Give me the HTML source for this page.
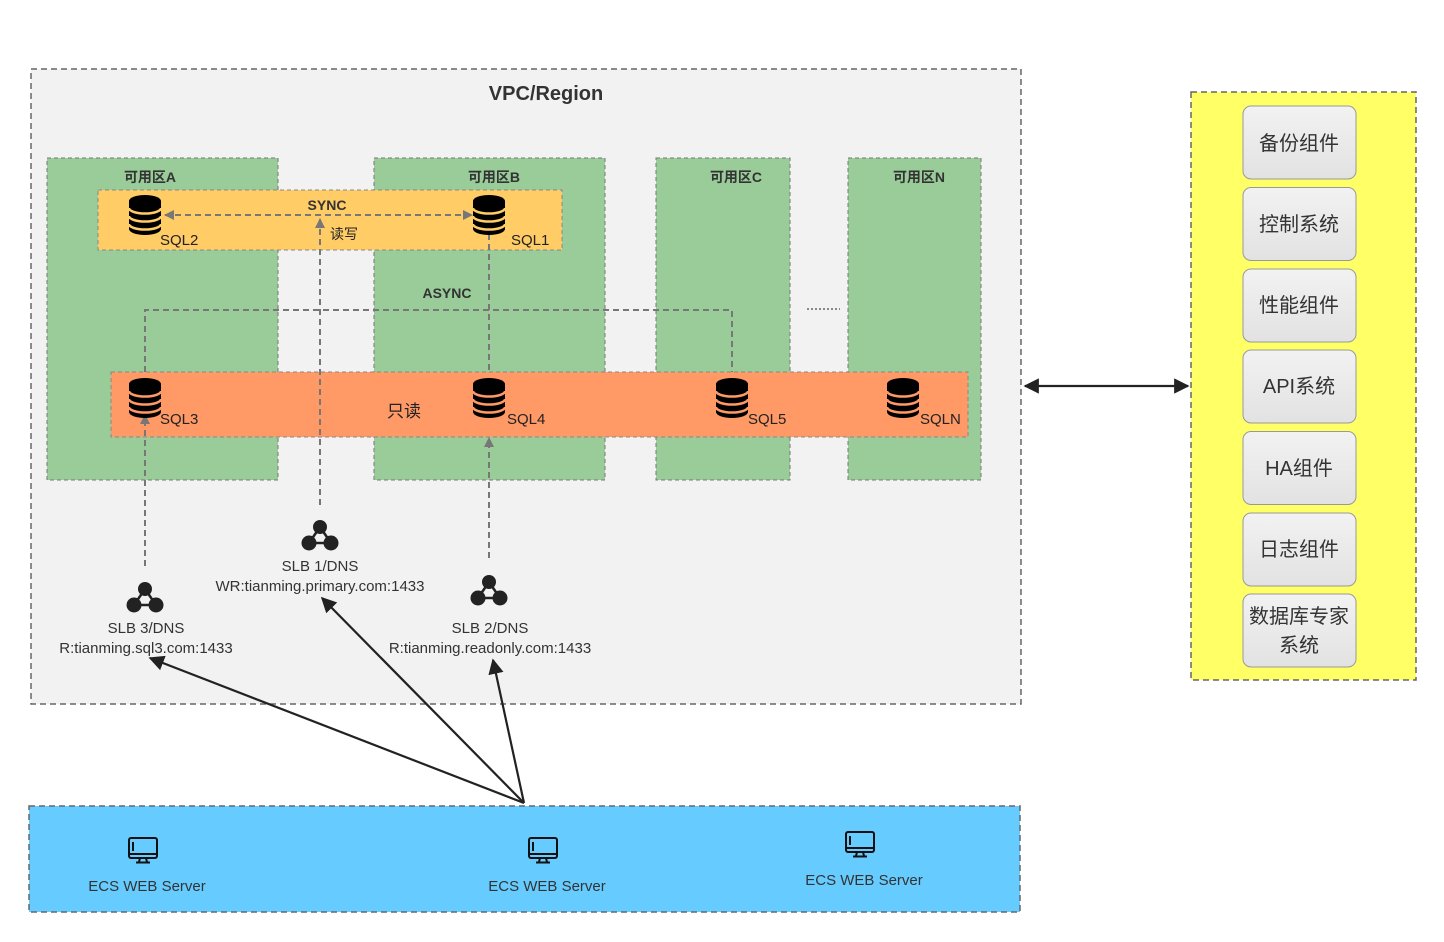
<!DOCTYPE html>
<html><head><meta charset="utf-8"><style>
html,body{margin:0;padding:0;background:#fff;}
svg{display:block;font-family:"Liberation Sans","Noto Sans CJK SC",sans-serif;}
.b{font-weight:bold;fill:#333;}
</style></head><body>
<svg width="1444" height="942" viewBox="0 0 1444 942" xmlns="http://www.w3.org/2000/svg">
<defs>
<g id="db">
<ellipse cx="0" cy="-13" rx="16" ry="6" fill="#000"/>
<rect x="-16" y="-13" width="32" height="28" fill="#000"/>
<ellipse cx="0" cy="15" rx="16" ry="6" fill="#000"/>
<path d="M-16 -6 A16 5.5 0 0 0 16 -6 M-16 2 A16 5.5 0 0 0 16 2 M-16 10 A16 5.5 0 0 0 16 10" stroke="currentColor" stroke-width="2.5" fill="none"/>
</g>
<g id="slb" fill="#222">
<circle cx="0" cy="-9" r="7"/><circle cx="-11" cy="7" r="7.5"/><circle cx="11" cy="7" r="7.5"/>
<path d="M0 -9 L-11 7 L11 7 Z" fill="none" stroke="#222" stroke-width="2.5"/>
</g>
<g id="pc" fill="none" stroke="#111" stroke-width="2">
<rect x="-14" y="-12" width="28" height="20" rx="2"/>
<line x1="-14" y1="4" x2="14" y2="4"/>
<line x1="-10" y1="-8" x2="-10" y2="1"/>
<path d="M-3 8 L-4 12 M3 8 L4 12 M-7 12.5 L7 12.5" />
</g>
<marker id="ag" viewBox="0 0 10 10" refX="9" refY="5" markerWidth="5" markerHeight="5" orient="auto-start-reverse"><path d="M0 0 L10 5 L0 10 Z" fill="#777"/></marker>
<marker id="ab" viewBox="0 0 10 10" refX="9" refY="5" markerWidth="7" markerHeight="7" orient="auto-start-reverse"><path d="M0 0 L10 5 L0 10 Z" fill="#222"/></marker>
<linearGradient id="bg" x1="0" y1="0" x2="0" y2="1"><stop offset="0" stop-color="#f2f2f2"/><stop offset="1" stop-color="#e2e2e2"/></linearGradient>
</defs>

<rect x="31" y="69" width="990" height="635" fill="#f2f2f2" stroke="#666" stroke-width="1.5" stroke-dasharray="6,4"/>
<text x="546" y="100" text-anchor="middle" class="b" font-size="20" fill="#333">VPC/Region</text>

<g fill="#99cc99" stroke="#777" stroke-dasharray="4,3" stroke-width="1">
<rect x="47" y="158" width="231" height="322"/>
<rect x="374" y="158" width="231" height="322"/>
<rect x="656" y="158" width="134" height="322"/>
<rect x="848" y="158" width="133" height="322"/>
</g>
<g class="b" font-size="14" text-anchor="middle">
<text x="150" y="182">可用区A</text><text x="494" y="182">可用区B</text>
<text x="736" y="182">可用区C</text><text x="919" y="182">可用区N</text>
</g>

<rect x="98" y="190" width="464" height="60" fill="#ffcc66" stroke="#888" stroke-dasharray="4,3"/>
<rect x="111" y="372" width="857" height="65" fill="#ff9966" stroke="#888" stroke-dasharray="4,3"/>

<g stroke="#777" stroke-width="2" stroke-dasharray="6,4" fill="none">
<line x1="165" y1="215" x2="472" y2="215" marker-start="url(#ag)" marker-end="url(#ag)"/>
<line x1="320" y1="505" x2="320" y2="219" marker-end="url(#ag)"/>
<path d="M145 372 V310 H732 V372"/>
<line x1="489" y1="234" x2="489" y2="372"/>
<line x1="145" y1="566" x2="145" y2="415" marker-end="url(#ag)"/>
<line x1="489" y1="558" x2="489" y2="438" marker-end="url(#ag)"/>
</g>
<line x1="807" y1="309" x2="840" y2="309" stroke="#666" stroke-width="1.5" stroke-dasharray="2,2"/>

<text x="327" y="210" class="b" font-size="14" text-anchor="middle">SYNC</text>
<text x="330" y="239" font-size="14" fill="#222">读写</text>
<text x="447" y="298" class="b" font-size="14" text-anchor="middle">ASYNC</text>
<text x="404" y="417" font-size="17" fill="#222" text-anchor="middle">只读</text>

<use href="#db" x="145" y="214" style="color:#ffcc66"/>
<use href="#db" x="489" y="214" style="color:#ffcc66"/>
<use href="#db" x="145" y="397" style="color:#ff9966"/>
<use href="#db" x="489" y="397" style="color:#ff9966"/>
<use href="#db" x="732" y="397" style="color:#ff9966"/>
<use href="#db" x="903" y="397" style="color:#ff9966"/>
<g font-size="15" fill="#222">
<text x="160" y="245">SQL2</text><text x="511" y="245">SQL1</text>
<text x="160" y="424">SQL3</text><text x="507" y="424">SQL4</text>
<text x="748" y="424">SQL5</text><text x="920" y="424">SQLN</text>
</g>

<use href="#slb" x="145" y="598"/>
<use href="#slb" x="320" y="536"/>
<use href="#slb" x="489" y="591"/>
<g font-size="15" fill="#333" text-anchor="middle">
<text x="146" y="633">SLB 3/DNS</text><text x="146" y="653">R:tianming.sql3.com:1433</text>
<text x="320" y="571">SLB 1/DNS</text><text x="320" y="591">WR:tianming.primary.com:1433</text>
<text x="490" y="633">SLB 2/DNS</text><text x="490" y="653">R:tianming.readonly.com:1433</text>
</g>

<g stroke="#222" stroke-width="2.2">
<line x1="524" y1="803" x2="150" y2="658" marker-end="url(#ab)"/>
<line x1="524" y1="803" x2="322" y2="598" marker-end="url(#ab)"/>
<line x1="524" y1="803" x2="493" y2="660" marker-end="url(#ab)"/>
<line x1="1025" y1="386" x2="1188" y2="386" marker-start="url(#ab)" marker-end="url(#ab)"/>
</g>

<rect x="29" y="806" width="991" height="106" fill="#66ccff" stroke="#666" stroke-width="1.5" stroke-dasharray="6,4"/>
<use href="#pc" x="143" y="850"/>
<use href="#pc" x="543" y="850"/>
<use href="#pc" x="860" y="844"/>
<g font-size="15" fill="#333" text-anchor="middle">
<text x="147" y="891">ECS WEB Server</text>
<text x="547" y="891">ECS WEB Server</text>
<text x="864" y="885">ECS WEB Server</text>
</g>

<rect x="1191" y="92" width="225" height="588" fill="#ffff66" stroke="#666" stroke-width="1.5" stroke-dasharray="6,4"/>
<g fill="url(#bg)" stroke="#999" stroke-width="1">
<rect x="1243" y="106" width="113" height="73" rx="8"/>
<rect x="1243" y="187.5" width="113" height="73" rx="8"/>
<rect x="1243" y="269" width="113" height="73" rx="8"/>
<rect x="1243" y="350" width="113" height="73" rx="8"/>
<rect x="1243" y="431.5" width="113" height="73" rx="8"/>
<rect x="1243" y="513" width="113" height="73" rx="8"/>
<rect x="1243" y="594" width="113" height="73" rx="8"/>
</g>
<g font-size="20" fill="#333" text-anchor="middle">
<text x="1299" y="150">备份组件</text>
<text x="1299" y="231">控制系统</text>
<text x="1299" y="312">性能组件</text>
<text x="1299" y="393">API系统</text>
<text x="1299" y="475">HA组件</text>
<text x="1299" y="556">日志组件</text>
<text x="1299" y="623">数据库专家</text>
<text x="1299" y="652">系统</text>
</g>
</svg>
</body></html>
